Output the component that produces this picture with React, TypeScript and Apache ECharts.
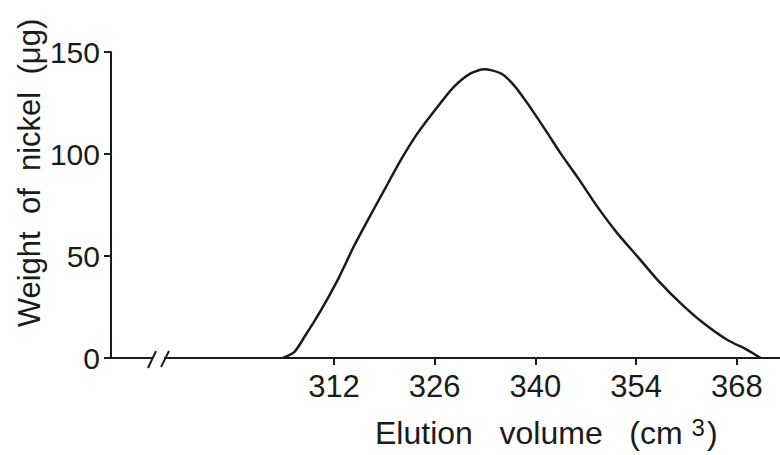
import React, { useEffect, useRef } from "react";
import * as echarts from "echarts";

// Elution profile of nickel
const volume = [
  304.9, 306.5, 307.9, 310.2, 312.5, 314.8, 316.7, 319.0, 321.3, 323.6, 326.4,
  328.7, 331.0, 332.9, 335.2, 337.0, 338.9, 341.7, 343.5, 346.1, 348.6, 351.4,
  354.2, 357.0, 360.2, 363.4, 366.7, 369.5, 371.3,
];
const nickel = [
  0, 3, 10.4, 23.5, 38.2, 55.0, 67.6, 82.4, 97.1, 110.1, 123.2, 133, 139.5,
  141.5, 139.5, 133.8, 124.8, 110.1, 100.3, 87.3, 74.2, 61.1, 49.7, 38.2, 26.8,
  17, 8.8, 3.9, 0,
];
const xTicks = [312, 326, 340, 354, 368];
const yTicks = [0, 50, 100, 150];

const INK = "#1b1b1b";
const FONT = "'Liberation Sans', Arial, sans-serif";

export default function App() {
  const ref = useRef<HTMLDivElement>(null);

  useEffect(() => {
    document.body.style.margin = "0";
    if (!ref.current) return;
    const chart = echarts.init(ref.current, undefined, { renderer: "svg" });
    chart.setOption({
      animation: false,
      backgroundColor: "#ffffff",
      grid: { left: 111, right: 0, top: 52, bottom: 97, containLabel: false },
      xAxis: {
        type: "value",
        min: 281,
        max: 374,
        splitLine: { show: false },
        axisLine: { show: true, lineStyle: { color: INK, width: 2 } },
        axisTick: {
          show: true,
          customValues: xTicks,
          length: 7,
          lineStyle: { color: INK, width: 2 },
        },
        axisLabel: {
          customValues: xTicks,
          margin: 13,
          color: INK,
          fontFamily: FONT,
          fontSize: 31,
        },
      },
      yAxis: {
        type: "value",
        min: 0,
        max: 150,
        interval: 50,
        splitLine: { show: false },
        axisLine: { show: true, lineStyle: { color: INK, width: 2 } },
        axisTick: {
          show: true,
          customValues: yTicks,
          length: 7,
          lineStyle: { color: INK, width: 2 },
        },
        axisLabel: {
          customValues: yTicks,
          margin: 11,
          color: INK,
          fontFamily: FONT,
          fontSize: 30,
        },
      },
      series: [
        {
          type: "line",
          data: volume.map((v, i) => [v, nickel[i]]),
          smooth: 0.25,
          showSymbol: false,
          lineStyle: { color: INK, width: 2.5 },
          z: 3,
        },
      ],
      graphic: [
        // gap in the axis at the scale break
        {
          type: "rect",
          shape: { x: 153, y: 354, width: 11, height: 9 },
          style: { fill: "#ffffff" },
          z: 100,
        },
        {
          type: "line",
          shape: { x1: 148, y1: 368, x2: 156, y2: 351 },
          style: { stroke: INK, lineWidth: 2 },
          z: 101,
        },
        {
          type: "line",
          shape: { x1: 161, y1: 367, x2: 169, y2: 351 },
          style: { stroke: INK, lineWidth: 2 },
          z: 101,
        },
        {
          type: "text",
          x: 29,
          y: 173,
          rotation: Math.PI / 2,
          style: {
            text: "Weight  of  nickel  (μg)",
            font: `31px ${FONT}`,
            fill: INK,
            align: "center",
            verticalAlign: "middle",
          },
          z: 100,
        },
        {
          type: "text",
          x: 375,
          y: 433,
          style: {
            text: "{a|Elution   volume   (cm }{s|3}{a|)}",
            fill: INK,
            align: "left",
            verticalAlign: "middle",
            rich: {
              a: { fontFamily: FONT, fontSize: 32, color: INK, lineHeight: 36 },
              s: {
                fontFamily: FONT,
                fontSize: 24,
                color: INK,
                verticalAlign: "top",
                lineHeight: 36,
                padding: [0, 2, 10, 0],
              },
            },
          },
          z: 100,
        },
      ],
    });
    return () => chart.dispose();
  }, []);

  return <div ref={ref} style={{ width: 780, height: 455 }} />;
}
